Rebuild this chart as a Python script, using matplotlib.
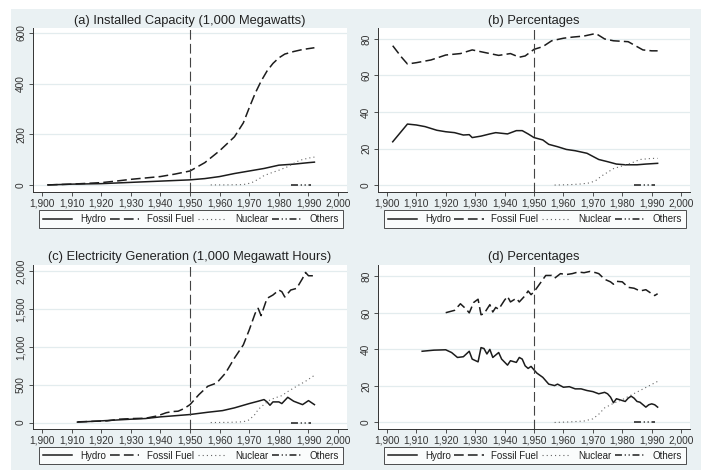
import matplotlib
matplotlib.use("Agg")
import matplotlib.pyplot as plt
from matplotlib.ticker import FuncFormatter
from matplotlib.patches import Rectangle

plt.rcParams['font.family'] = ['Liberation Sans', 'DejaVu Sans']
plt.rcParams['lines.scale_dashes'] = False

# (a) installed capacity, 1,000 MW
cap_hydro_years = [1902, 1910, 1920, 1930, 1940, 1950, 1955, 1960, 1965, 1970, 1975, 1980, 1985, 1990, 1992]
cap_hydro = [0, 3, 5, 10, 15, 20, 25, 33, 45, 55, 65, 78, 82, 88, 90]
cap_fossil_years = [1902, 1910, 1920, 1925, 1930, 1940, 1945, 1950, 1955, 1960, 1965, 1968, 1970, 1972,
	1974, 1976, 1978, 1980, 1982, 1985, 1988, 1992]
cap_fossil = [0, 3, 9, 15, 22, 33, 43, 55, 88, 135, 190, 245, 305, 362, 410, 450, 480, 502, 517, 527, 535, 542]
cap_nuclear_years = [1957, 1962, 1967, 1969, 1971, 1973, 1975, 1978, 1980, 1983, 1985, 1987, 1990, 1992]
cap_nuclear = [0, 0, 1, 3, 10, 22, 37, 50, 58, 72, 85, 97, 106, 110]
cap_others_years = [1984, 1985, 1986, 1987, 1988, 1989, 1990, 1991]
cap_others = [0, 0, 0, 0, 0, 0, 0, 0]

# (b) capacity shares, %
capp_hydro_years = [1902, 1907, 1910, 1913, 1917, 1920, 1923, 1926, 1928, 1929, 1932, 1935, 1937, 1941,
	1944, 1946, 1948, 1950, 1953, 1955, 1958, 1961, 1964, 1968, 1972, 1975, 1978, 1981, 1985, 1988, 1992]
capp_hydro = [23.7, 33.4, 32.9, 32, 30, 29.2, 28.7, 27.4, 27.6, 26, 26.8, 28, 28.7, 28, 29.8, 29.8, 28, 26,
	24.7, 22.3, 21, 19.5, 18.8, 17.4, 14, 12.8, 11.5, 11.1, 11.1, 11.5, 11.9]
capp_fossil_years = [1902, 1905, 1907, 1910, 1915, 1920, 1925, 1929, 1935, 1938, 1942, 1945, 1947, 1950,
	1953, 1956, 1960, 1963, 1967, 1971, 1974, 1977, 1982, 1985, 1987, 1990, 1992]
capp_fossil = [76.3, 70, 66.3, 67, 68.5, 71.2, 72, 74, 72, 71, 72, 70, 70.7, 74.3, 75.8, 79, 80.4, 81,
	81.6, 83, 80, 79, 78.5, 75.8, 74, 73.5, 73.5]
capp_nuclear_years = [1957, 1962, 1966, 1969, 1971, 1973, 1975, 1977, 1980, 1983, 1986, 1990, 1992]
capp_nuclear = [0, 0.2, 0.6, 1.2, 2.5, 5, 7, 9, 10.5, 12, 14, 14.6, 14.6]
capp_others_years = [1984, 1985, 1986, 1987, 1988, 1989, 1990, 1991]
capp_others = [0, 0, 0, 0, 0, 0, 0, 0]

# (c) generation, 1,000 MWh
gen_hydro_years = [1912, 1920, 1930, 1935, 1940, 1943, 1950, 1956, 1961, 1965, 1970, 1973, 1975, 1976,
	1977, 1978, 1980, 1981, 1983, 1985, 1988, 1990, 1992]
gen_hydro = [5, 22, 44, 53, 75, 84, 106, 136, 158, 194, 251, 282, 304, 273, 229, 273, 273, 251, 334, 282,
	237, 290, 237]
gen_fossil_years = [1912, 1922, 1926, 1931, 1935, 1939, 1942, 1944, 1946, 1948, 1950, 1953, 1956, 1959,
	1962, 1965, 1968, 1970, 1972, 1973, 1974, 1976, 1978, 1980, 1981, 1982, 1984, 1986, 1988, 1989, 1990, 1992]
gen_fossil = [9, 22, 44, 53, 57, 88, 130, 145, 150, 185, 237, 369, 480, 523, 655, 853, 1028, 1226, 1446,
	1512, 1415, 1644, 1688, 1754, 1732, 1662, 1754, 1776, 1908, 1987, 1943, 1943]
gen_nuclear_years = [1957, 1963, 1968, 1970, 1972, 1973, 1975, 1977, 1979, 1981, 1983, 1986, 1989, 1992]
gen_nuclear = [0, 2, 10, 35, 110, 172, 240, 300, 330, 356, 410, 480, 546, 625]
gen_others_years = [1984, 1985, 1986, 1987, 1988, 1989, 1990, 1991]
gen_others = [0, 0, 0, 0, 0, 0, 0, 0]

# (d) generation shares, %
genp_hydro_years = [1912, 1916, 1920, 1922, 1924, 1926, 1928, 1929, 1931, 1932, 1933, 1934, 1935, 1936,
	1938, 1939, 1941, 1942, 1944, 1945, 1946, 1947, 1948, 1949, 1950, 1951, 1953, 1955, 1957, 1958, 1960,
	1962, 1964, 1966, 1968, 1970, 1972, 1974, 1975, 1976, 1977, 1978, 1980, 1981, 1982, 1983, 1984, 1985,
	1986, 1988, 1989, 1990, 1991, 1992]
genp_hydro = [39, 39.6, 39.8, 38.3, 35.6, 36, 39, 34.7, 33.2, 41, 40.5, 37.5, 40, 35.6, 38.3, 34.7, 31.4,
	33.8, 32.9, 35.6, 34.7, 31, 29.6, 30.7, 28.8, 27, 24.7, 21, 20.2, 21, 19.3, 19.6, 18.4, 18.4, 17.5, 16.9,
	15.7, 16.5, 15.7, 13.9, 10.8, 13, 12, 11.5, 13.3, 14.4, 13.3, 11.5, 11.1, 8.4, 9.7, 10.2, 9.7, 8.4]
genp_fossil_years = [1920, 1923, 1925, 1927, 1928, 1929.5, 1931, 1932, 1933, 1934, 1935, 1936, 1937, 1938,
	1940, 1941, 1942, 1944, 1945, 1947, 1948, 1949, 1950, 1952, 1954, 1956, 1957, 1959, 1961, 1963, 1965,
	1967, 1969, 1971, 1972, 1974, 1976, 1977, 1978, 1980, 1982, 1984, 1986, 1988, 1990, 1991, 1992]
genp_fossil = [60.1, 61.4, 65, 62, 60, 65.7, 67.5, 59, 59.5, 62, 64.5, 60.5, 63, 62, 67, 69, 66, 68, 66,
	69.5, 72, 70, 71.5, 76, 80.5, 80.5, 79, 81.5, 81, 81.5, 82.4, 82, 82.7, 82, 81.5, 78.4, 77, 75.7, 77.3,
	77, 74, 73.5, 72, 72.7, 70.5, 69.5, 70.5]
genp_nuclear_years = [1957, 1962, 1967, 1970, 1972, 1974, 1977, 1980, 1983, 1986, 1989, 1992]
genp_nuclear = [0, 0.3, 0.8, 2, 4.5, 8, 10.5, 12.5, 15, 17.5, 20, 22.5]
genp_others_years = [1984, 1985, 1986, 1987, 1988, 1989, 1990, 1991]
genp_others = [0, 0, 0, 0, 0, 0, 0, 0]

BG = '#eaf1f3'
INK = '#1c1c1c'

def Comma(v, pos):
	return "{:,}".format(int(round(v)))

def StyleAxes(ax, title, ylim, yticks):
	ax.set_facecolor('white')
	ax.set_xlim(1897, 2003)
	ax.set_ylim(*ylim)
	ax.set_xticks(range(1900, 2001, 10))
	ax.set_yticks(yticks)
	ax.xaxis.set_major_formatter(FuncFormatter(Comma))
	ax.yaxis.set_major_formatter(FuncFormatter(Comma))
	for s in ['top', 'right']:
		ax.spines[s].set_visible(False)
	for s in ['left', 'bottom']:
		ax.spines[s].set_color('#333333')
		ax.spines[s].set_linewidth(0.7)
	ax.tick_params(axis='both', length=3, width=0.6, color='#333333', labelsize=7.3, labelcolor='#333333', pad=2)
	ax.tick_params(axis='y', labelrotation=90)
	plt.setp(ax.get_yticklabels(), va='center')
	ax.grid(axis='y', color='#e3ecee', lw=0.9)
	ax.set_axisbelow(True)
	ax.set_title(title, fontsize=9.3, color='#222222', pad=3)
	# policy break
	ax.axvline(1950, color='#444444', lw=0.8, dashes=(7, 3))

def PlotSeries(ax, hx, hy, fx, fy, nx, ny, ox, oy):
	ax.plot(hx, hy, color=INK, lw=1.1, label='Hydro')
	ax.plot(fx, fy, color=INK, lw=1.1, dashes=(7, 3), label='Fossil Fuel')
	ax.plot(nx, ny, color='#666666', lw=0.8, dashes=(0.8, 2.2), label='Nuclear')
	ax.plot(ox, oy, color=INK, lw=1.1, dashes=(5, 2, 0.8, 2, 0.8, 2), label='Others')
	leg = ax.legend(loc='lower left', bbox_to_anchor=(0.02, -0.2195, 0.966, 0.0976), mode='expand', ncol=4,
		fontsize=7, frameon=True, fancybox=False, edgecolor='#222222', handlelength=3.0, borderpad=0.4,
		columnspacing=1.5, handletextpad=0.8, borderaxespad=0)
	leg.get_frame().set_linewidth(0.7)
	for t in leg.get_texts():
		t.set_color('#222222')

def main():
	fig = plt.figure(figsize=(7.05, 4.72), dpi=100, facecolor='white')
	fig.add_artist(Rectangle((11 / 705, 2 / 472), 690 / 705, 461 / 472, transform=fig.transFigure,
		facecolor=BG, edgecolor='none', zorder=-10))

	W, H = 705.0, 472.0
	def Box(l, r, t, b):
		return [l / W, (H - b) / H, (r - l) / W, (b - t) / H]

	ax_a = fig.add_axes(Box(33, 347, 28, 192))
	ax_b = fig.add_axes(Box(378, 690, 28, 192))
	ax_c = fig.add_axes(Box(33, 347, 264.5, 428.5))
	ax_d = fig.add_axes(Box(378, 690, 264.5, 428.5))

	PlotSeries(ax_a, cap_hydro_years, cap_hydro, cap_fossil_years, cap_fossil,
		cap_nuclear_years, cap_nuclear, cap_others_years, cap_others)
	StyleAxes(ax_a, "(a) Installed Capacity (1,000 Megawatts)", (-28, 620), [0, 200, 400, 600])

	PlotSeries(ax_b, capp_hydro_years, capp_hydro, capp_fossil_years, capp_fossil,
		capp_nuclear_years, capp_nuclear, capp_others_years, capp_others)
	StyleAxes(ax_b, "(b) Percentages", (-3.8, 86), [0, 20, 40, 60, 80])

	PlotSeries(ax_c, gen_hydro_years, gen_hydro, gen_fossil_years, gen_fossil,
		gen_nuclear_years, gen_nuclear, gen_others_years, gen_others)
	StyleAxes(ax_c, "(c) Electricity Generation (1,000 Megawatt Hours)", (-79, 2092), [0, 500, 1000, 1500, 2000])

	PlotSeries(ax_d, genp_hydro_years, genp_hydro, genp_fossil_years, genp_fossil,
		genp_nuclear_years, genp_nuclear, genp_others_years, genp_others)
	StyleAxes(ax_d, "(d) Percentages", (-3.3, 86.5), [0, 20, 40, 60, 80])

	fig.savefig("out.png", dpi=100, facecolor=fig.get_facecolor())
	plt.close(fig)

if __name__ == "__main__":
	main()
